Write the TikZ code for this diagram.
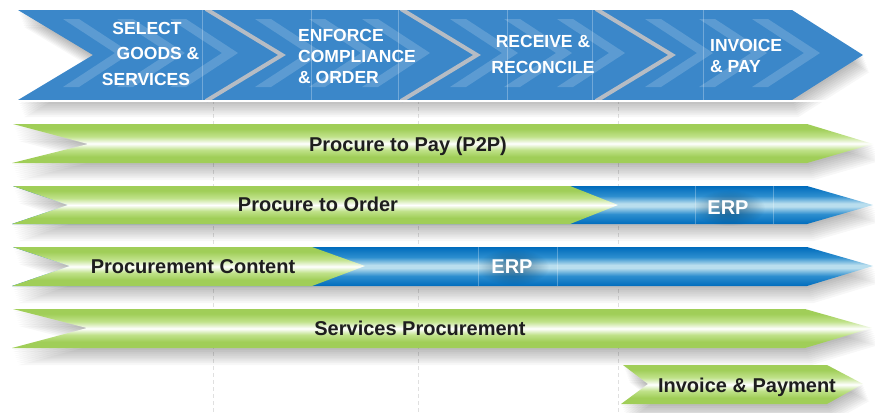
\documentclass[tikz,border=0pt]{standalone}
\usepackage{fontspec}
\setmainfont{Liberation Sans}
\usetikzlibrary{fadings}
\definecolor{chevblue}{RGB}{59,135,201}
\definecolor{sepgrey}{RGB}{182,188,196}
\definecolor{gEdge}{RGB}{160,206,88}
\definecolor{gMid}{RGB}{192,226,138}
\definecolor{gHi}{RGB}{240,248,228}
\definecolor{bEdge}{RGB}{0,108,188}
\definecolor{bMid}{RGB}{45,142,207}
\definecolor{bHi}{RGB}{185,222,238}
\definecolor{txtdark}{RGB}{30,30,30}
\definecolor{gridgrey}{RGB}{224,224,224}
\pgfdeclareverticalshading{greenbar}{100bp}{color(0bp)=(gEdge); color(25bp)=(gEdge); color(33bp)=(gEdge); color(42bp)=(gMid); color(48bp)=(gHi); color(50bp)=(white); color(52bp)=(gHi); color(59bp)=(gMid); color(69bp)=(gEdge); color(75bp)=(gEdge); color(100bp)=(gEdge)}
\pgfdeclareverticalshading{bluebar}{100bp}{color(0bp)=(bEdge); color(25bp)=(bEdge); color(38bp)=(bMid); color(48bp)=(bHi); color(50bp)=(bHi); color(52bp)=(bHi); color(62bp)=(bMid); color(75bp)=(bEdge); color(100bp)=(bEdge)}
\tikzfading[name=softglow, inner color=transparent!20, outer color=transparent!100]
\newcommand\softshadow[1]{\foreach \s in {1,...,9}{\fill[black,opacity=0.03,yshift={-1.9bp*\s},xshift={0.7bp*\s}] #1;}}
\tikzset{
  chevtxt/.style={font=\fontsize{17.5bp}{21bp}\selectfont\bfseries,text=white,inner sep=0pt},
  bartxt/.style={font=\fontsize{20bp}{22bp}\selectfont\bfseries,text=txtdark,inner sep=0pt},
  erptxt/.style={font=\fontsize{20bp}{22bp}\selectfont\bfseries,text=white,inner sep=0pt},
  greenfill/.style={shading=greenbar},
  bluefill/.style={shading=bluebar},
  stripe/.style={fill=white,fill opacity=0.17},
  seam/.style={draw=white,draw opacity=0.28,line width=0.6bp},
  sep/.style={draw=sepgrey,line width=4bp,line join=miter},
  glow/.style={fill=bEdge!45!black,opacity=0.7,path fading=softglow},
  gridline/.style={draw=gridgrey,line width=0.7bp,dash pattern=on 4bp off 3bp}
}
\begin{document}
\begin{tikzpicture}[x=1bp,y=-1bp]
\useasboundingbox (0,0) rectangle (875,412);
\fill[white] (0,0) rectangle (875,412);
% faint background grid lines
\foreach \gx in {213,418,618}{\draw[gridline] (\gx,100) -- (\gx,412);}
% shadows
\softshadow{(18,10) -- (792,10) -- (863,55) -- (792,100) -- (18,100) -- (93,55) -- cycle}
\softshadow{(13,124) -- (807,124) -- (873,144) -- (807,163) -- (12,163) -- (88,144) -- cycle}
\softshadow{(13,186) -- (807,186) -- (873,205) -- (807,224) -- (12,224) -- (68,205) -- cycle}
\softshadow{(13,247) -- (807,247) -- (873,266) -- (807,286) -- (12,286) -- (70,266) -- cycle}
\softshadow{(13,309) -- (805,309) -- (872,328) -- (805,348) -- (12,348) -- (87,328) -- cycle}
\softshadow{(623,365) -- (827,365) -- (863,384) -- (827,404) -- (621,404) -- (648,384) -- cycle}
% top chevron band
\fill[chevblue] (18,10) -- (792,10) -- (863,55) -- (792,100) -- (18,100) -- (93,55) -- cycle;
\foreach \L in {18,210,405,600}{
  \foreach \o in {45,99,152}{
    \pgfmathsetmacro\s{\L+\o}
    \fill[stripe] (\s,19) -- ({\s+16},19) -- ({\s+68},53) -- ({\s+16},87) -- (\s,87) -- ({\s+52},53) -- cycle;
  }
}
\foreach \vx in {202,311,398,507,592,703}{\draw[seam] (\vx,10) -- (\vx,100);}
\foreach \L in {210,405,600}{\draw[sep] (\L-4,9) -- (\L+72,55) -- (\L-4,101);}
\fill[white] (0,0) rectangle (875,9.8);
\fill[white] (0,100.2) rectangle (875,102);
% chevron texts
\node[chevtxt,anchor=base] (c1a) at (147,34) {SELECT};
\node[chevtxt,anchor=base] (c1b) at (158,59.5) {GOODS \&};
\node[chevtxt,anchor=base] (c1c) at (146,85) {SERVICES};
\node[chevtxt,anchor=base west] (c2a) at (298,41) {ENFORCE};
\node[chevtxt,anchor=base west] (c2b) at (298,62) {COMPLIANCE};
\node[chevtxt,anchor=base west] (c2c) at (298,83) {\& ORDER};
\node[chevtxt,anchor=base] (c3a) at (543,47) {RECEIVE \&};
\node[chevtxt,anchor=base] (c3b) at (543,73) {RECONCILE};
\node[chevtxt,anchor=base west] (c4a) at (710,51) {INVOICE};
\node[chevtxt,anchor=base west] (c4b) at (710,72) {\& PAY};
% row 1: P2P
\path[greenfill] (13,124) -- (807,124) -- (873,144) -- (807,163) -- (12,163) -- (88,144) -- cycle;
\node[bartxt,anchor=base] (p2p) at (408,151) {Procure to Pay (P2P)};
% row 2
\path[bluefill] (13,186) -- (807,186) -- (873,205) -- (807,224) -- (12,224) -- (68,205) -- cycle;
\foreach \vx in {695,773}{\draw[seam] (\vx,186) -- (\vx,224);}
\path[greenfill] (13,186) -- (570,186) -- (618,205) -- (570,224) -- (12,224) -- (68,205) -- cycle;
\node[bartxt,anchor=base] (pto) at (318,211) {Procure to Order};
\fill[glow] (729,208) ellipse (36 and 18);
\node[erptxt,anchor=base] (erp1) at (728,214) {ERP};
% row 3
\path[bluefill] (13,247) -- (807,247) -- (873,266) -- (807,286) -- (12,286) -- (70,266) -- cycle;
\foreach \vx in {478,557}{\draw[seam] (\vx,247) -- (\vx,286);}
\path[greenfill] (13,247) -- (312,247) -- (365,266) -- (312,286) -- (12,286) -- (70,266) -- cycle;
\node[bartxt,anchor=base] (pc) at (193,273) {Procurement Content};
\fill[glow] (513,267) ellipse (36 and 18);
\node[erptxt,anchor=base] (erp2) at (512,273) {ERP};
% row 4
\path[greenfill] (13,309) -- (805,309) -- (872,328) -- (805,348) -- (12,348) -- (87,328) -- cycle;
\node[bartxt,anchor=base] (sp) at (420,335) {Services Procurement};
% row 5
\path[greenfill] (623,365) -- (827,365) -- (863,384) -- (827,404) -- (621,404) -- (648,384) -- cycle;
\node[bartxt,anchor=base] (ip) at (747,392) {Invoice \& Payment};
\end{tikzpicture}
\end{document}
